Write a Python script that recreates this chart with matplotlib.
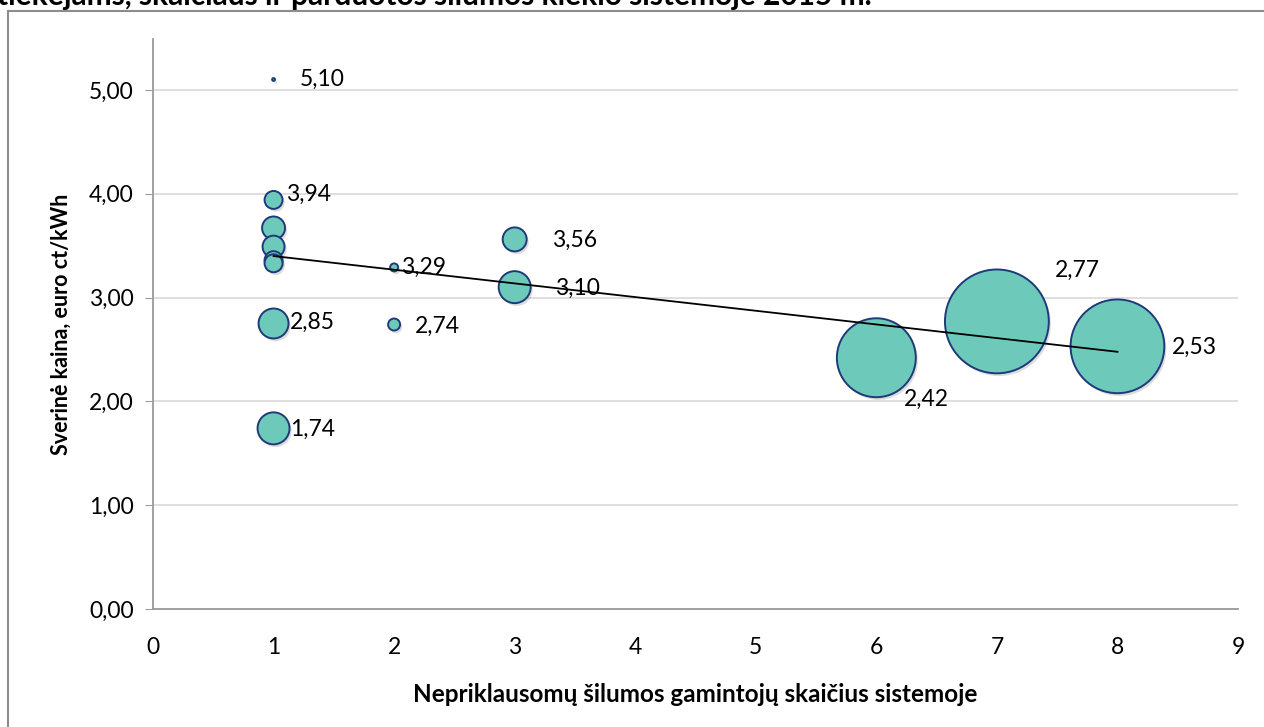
import numpy as np
import matplotlib
matplotlib.use("Agg")
import matplotlib.pyplot as plt
from matplotlib.patches import Rectangle
import matplotlib.patheffects as pe

plt.rcParams['font.family'] = ['Lato', 'DejaVu Sans']

# Data: number of independent producers, weighted price (euro ct/kWh), heat sold (relative bubble size)
producers = [1, 1, 1, 1, 1, 1, 1, 1, 1, 1, 2, 2, 3, 3, 6, 7, 8]
price = [5.10, 3.99, 3.94, 3.67, 3.49, 3.36, 3.33, 2.85, 2.75, 1.74, 3.29, 2.74, 3.56, 3.10, 2.42, 2.77, 2.53]
heat_sold = [2, 9, 81, 132, 121, 81, 81, 1, 225, 256, 16, 36, 144, 256, 1560, 2700, 2200]

# Data labels: (index of point, label text, offset in points)
label_idx = [0, 1, 7, 9, 10, 11, 12, 13, 14, 15, 16]
label_txt = ["5,10", "3,94", "2,85", "1,74", "3,29", "2,74", "3,56", "3,10", "2,42", "2,77", "2,53"]
label_off = [(19, 0), (9, 0), (12, -7), (12, -1), (5, 0), (15, -1), (27, -1), (29, -1), (20, -30), (42, 37), (39, -1)]

y_ticks = [0, 1, 2, 3, 4, 5]
x_ticks = list(range(0, 10))

W, H = 1264, 727
fig = plt.figure(figsize=(W / 100, H / 100), dpi=100)
fig.patch.set_facecolor("white")

# outer chart frame (extends beyond right and bottom edges)
fig.patches.append(Rectangle((8 / W, -0.05), 1.05, 1.05 - 11 / H,
                             transform=fig.transFigure, fill=False,
                             edgecolor="#8c8c8c", linewidth=1.5, zorder=0))
# title, partly cut off by the top edge as in the reference
fig.text(-3 / W, 1 - 5 / H, "tiekėjams, skaičiaus ir parduotos šilumos kiekio sistemoje 2015 m.",
         fontsize=21.5, fontweight="bold", ha="left", va="baseline", color="black")

ax = fig.add_axes([153 / W, 1 - 609 / H, (1238 - 153) / W, (609 - 39) / H])
ax.set_xlim(0, 9)
ax.set_ylim(0, 5.49)

sizes = np.array(heat_sold) * 2.07
ax.scatter(producers, price, s=sizes, facecolor="#6DCABB", edgecolor="#1F3A7A",
           linewidth=1.4, zorder=3,
           path_effects=[pe.SimplePatchShadow(offset=(1.5, -2), alpha=0.25, shadow_rgbFace="#777777"), pe.Normal()])

# linear trendline
coef = np.polyfit(producers, price, 1)
xs = np.array([min(producers), max(producers)])
ax.plot(xs, np.polyval(coef, xs), color="black", linewidth=1.3, zorder=4)

for i, t, off in zip(label_idx, label_txt, label_off):
    ax.annotate(t, (producers[i], price[i]), xytext=off, textcoords="offset points",
                ha="left", va="center", fontsize=16.5, color="black", zorder=5)

ax.set_yticks(y_ticks)
ax.set_yticklabels([f"{v:.2f}".replace(".", ",") for v in y_ticks])
ax.set_xticks(x_ticks)
ax.set_xticklabels([str(v) for v in x_ticks])
ax.yaxis.grid(True, color="#d9d9d9", linewidth=1.2)
ax.set_axisbelow(True)
for s in ["top", "right"]:
    ax.spines[s].set_visible(False)
for s in ["left", "bottom"]:
    ax.spines[s].set_color("#9a9a9a")
    ax.spines[s].set_linewidth(1.3)
ax.tick_params(axis="y", length=6, color="#9a9a9a", labelsize=16.5, pad=8)
ax.tick_params(axis="x", length=0, labelsize=16.5, pad=20)

ax.set_xlabel("Nepriklausomų šilumos gamintojų skaičius sistemoje", fontsize=17.5,
              fontweight="bold", labelpad=18)
ax.set_ylabel("Sverinė kaina, euro ct/kWh", fontsize=15.5, fontweight="bold", labelpad=12)

fig.savefig("out.png", dpi=100)
